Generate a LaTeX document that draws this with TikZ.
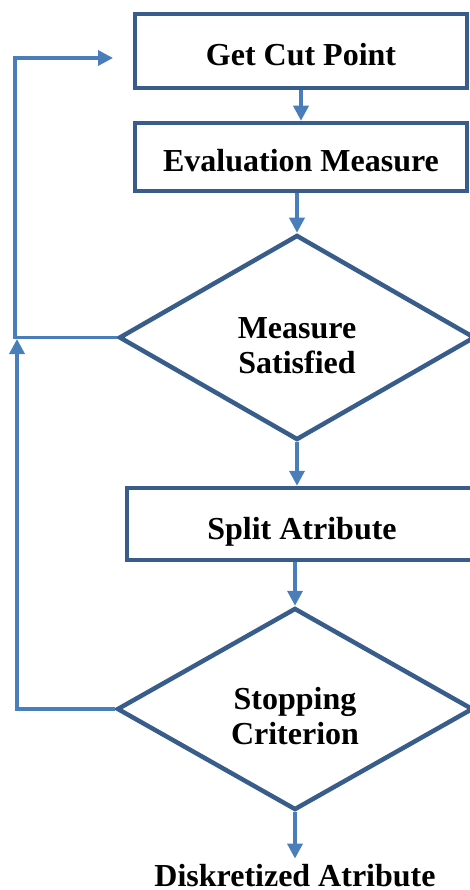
\documentclass[tikz,border=0pt]{standalone}
\usepackage{fontspec}
\setmainfont{Liberation Serif}
\usetikzlibrary{arrows.meta,shapes.geometric}
\definecolor{boxblue}{HTML}{385D8A}
\definecolor{flowblue}{HTML}{4A7EBB}
\tikzset{
	stepbox/.style={draw=boxblue, line width=4.5pt, rectangle, inner sep=0pt, text height=30pt, text depth=0pt, font=\fontsize{32}{35}\selectfont\bfseries},
	decision/.style={draw=boxblue, line width=4.5pt, diamond, inner sep=0pt, align=center, text height=71pt, text depth=0pt, font=\fontsize{32}{35}\selectfont\bfseries},
	flow/.style={draw=flowblue, line width=3.5pt, -{Triangle[width=15pt,length=15pt]}}
}

\begin{document}
\begin{tikzpicture}[x=1pt, y=-1pt]
			%%%%% START %%%%%
			\useasboundingbox (0, 0) rectangle (470, 890);
			
			\node[stepbox, minimum width=332pt, minimum height=74pt] (cut) at (301, 51) {Get Cut Point};
			\node[stepbox, minimum width=332pt, minimum height=68pt] (eval) at (301, 157) {Evaluation Measure};
			\node[decision, minimum width=356pt, minimum height=205pt] (sat) at (297, 337.5) {Measure\\Satisfied};
			\node[stepbox, minimum width=350pt, minimum height=72pt] (split) at (302, 524) {Split Atribute};
			\node[decision, minimum width=356pt, minimum height=202pt] (stop) at (295, 709) {Stopping\\Criterion};
			\node[font=\fontsize{32}{35}\selectfont\bfseries, inner sep=5pt, anchor=base] (disk) at (295, 886) {Diskretized Atribute};
			
			\coordinate (back1) at (113, 58);
			\coordinate (back2) at (17, 339);
			
			\draw[flow] (cut) -- (eval);
			\draw[flow] (eval.south -| sat.north) -- (sat.north);
			\draw[flow] (sat.south) -- (sat.south |- split.north);
			\draw[flow] (split.south -| stop.north) -- (stop.north);
			\draw[flow] (stop.south) -- (disk.north);
			
			\draw[flow] (sat.west) -- ++(-102, 0) |- (back1);
			\draw[flow] (stop.west) -| (back2);
			
			%%%%% END %%%%%
\end{tikzpicture}
\end{document}
